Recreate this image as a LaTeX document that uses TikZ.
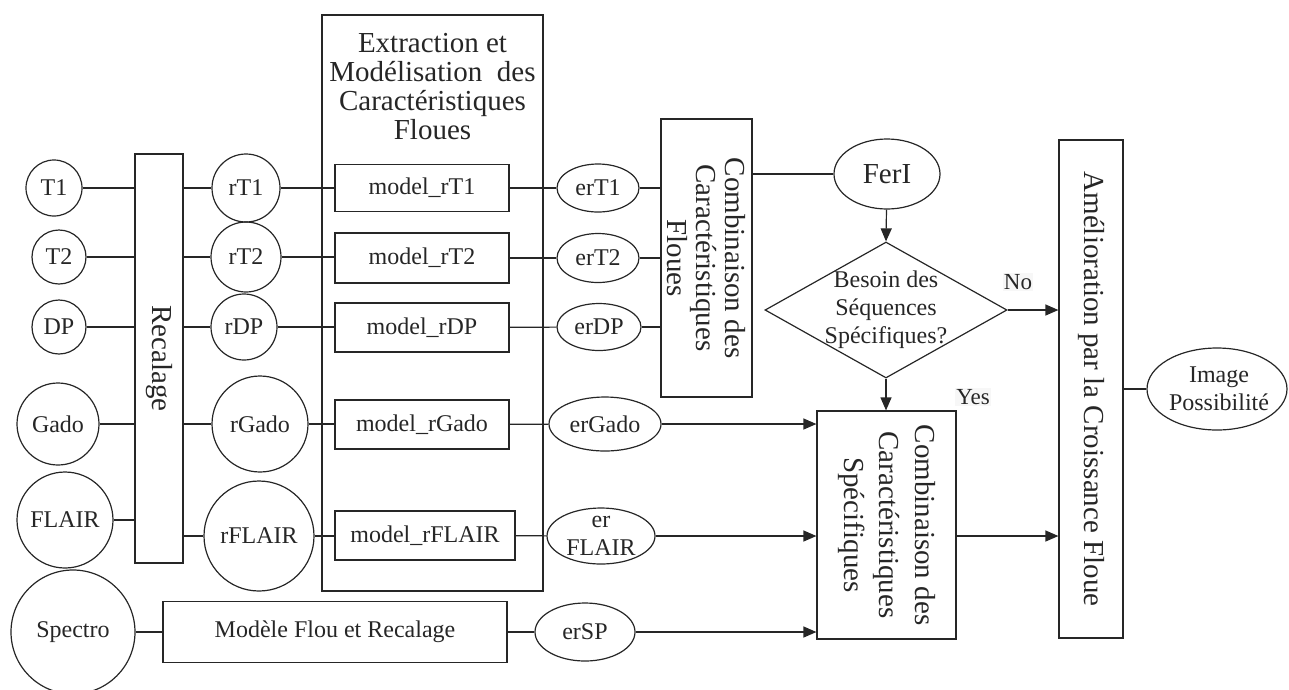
\documentclass[tikz,border=0pt]{standalone}
\usepackage{fontspec}
\setmainfont{Liberation Serif}
\usetikzlibrary{shapes.geometric,arrows.meta}
\newcommand\fsmall{\fontsize{24}{28}\selectfont}
\newcommand\fbig{\fontsize{29}{29}\selectfont}
\newcommand\flab{\fontsize{23}{26}\selectfont}
\colorlet{ink}{black!85}
\tikzset{
  conn/.style={line width=1.2pt, draw=ink},
  arr/.style={conn, -{Triangle[length=13pt,width=11pt]}},
  circ/.style={circle, draw=ink, line width=1.2pt, inner sep=0pt, font=\fsmall, text=ink},
  ell/.style={ellipse, draw=ink, line width=1.2pt, inner sep=0pt, font=\fsmall, text=ink},
  box/.style={rectangle, draw=ink, line width=1.2pt, inner sep=0pt, font=\fsmall, text=ink, align=center},
  vbox/.style={rectangle, draw=ink, line width=1.2pt, inner sep=0pt, font=\fbig, text=ink, align=center, rotate=-90},
  txt/.style={inner sep=0pt, text=ink, align=center},
  dia/.style={diamond, draw=ink, line width=1.2pt, inner sep=0pt, font=\fsmall, text=ink, align=center},
  lab/.style={inner sep=1pt, fill=black!3, text=ink, font=\flab}
}
\begin{document}
\begin{tikzpicture}[x=1pt,y=-1pt]
\useasboundingbox (0,0) rectangle (1289,689);

% inputs
\node[circ, minimum size=56] (T1) at (54,188) {T1};
\node[circ, minimum size=54] (T2) at (59,257) {T2};
\node[circ, minimum size=54] (DP) at (59,327) {DP};
\node[circ, minimum size=82] (Gado) at (58,424) {Gado};
\node[circ, minimum size=96] (FLAIR) at (65,520) {FLAIR};
\node[circ, minimum size=124] (Spectro) at (73,632) {Spectro};

% Recalage
\node[vbox, minimum width=409, minimum height=48, font=\fbig] (rec) at (159,358.5) {Recalage};

% registered
\node[circ, minimum size=68] (rT1) at (246,188) {rT1};
\node[circ, minimum size=70] (rT2) at (246,257) {rT2};
\node[circ, minimum size=66] (rDP) at (244,327) {rDP};
\node[circ, minimum size=96] (rGado) at (260,424) {rGado};
\node[circ, minimum size=110] (rFLAIR) at (259,536) {rFLAIR};

% extraction box
\node[box, minimum width=221, minimum height=576] (ext) at (432.5,303) {};
\node[txt, font=\fbig] (extt) at (432.5,87) {Extraction et\\Modélisation\ \ des\\Caractéristiques\\Floues};

\node[box, minimum width=174, minimum height=47] (m1) at (422,188) {model\_rT1};
\node[box, minimum width=174, minimum height=50] (m2) at (422,258) {model\_rT2};
\node[box, minimum width=174, minimum height=49] (m3) at (422,327.5) {model\_rDP};
\node[box, minimum width=174, minimum height=49] (m4) at (422,424.5) {model\_rGado};
\node[box, minimum width=180, minimum height=49] (m5) at (425,535.5) {model\_rFLAIR};

\node[box, minimum width=344, minimum height=61] (mod) at (335,632) {Modèle Flou et Recalage};

% er ellipses
\node[ell, minimum width=82, minimum height=48] (e1) at (598,188) {erT1};
\node[ell, minimum width=82, minimum height=49] (e2) at (598,258) {erT2};
\node[ell, minimum width=84, minimum height=47] (e3) at (599,327) {erDP};
\node[ell, minimum width=112, minimum height=54] (e4) at (605,424) {erGado};
\node[ell, minimum width=108, minimum height=56] (e5) at (601,536) {};
\node[txt, font=\fsmall] (e5t) at (601,536) {er\\FLAIR};
\node[ell, minimum width=100, minimum height=58] (e6) at (585,632) {erSP};

% combinaison floues
\node[vbox, minimum width=278, minimum height=91] (cf) at (706.5,258)
  {Combinaison des\\Caractéristiques\\Floues};

\node[ell, minimum width=106, minimum height=70, font=\fbig] (ferI) at (887,174) {FerI};

\node[dia, minimum width=242, minimum height=136] (dec) at (886,310) {};
\node[txt, font=\fsmall] (dect) at (886,310) {Besoin des\\Séquences\\Spécifiques?};

% combinaison specifiques
\node[vbox, minimum width=228, minimum height=139, font=\fontsize{29}{35.5}\selectfont] (cs) at (886.5,525)
  {Combinaison des\\Caractéristiques\\Spécifiques};

% amelioration
\node[vbox, minimum width=498, minimum height=64] (amel) at (1091,389)
  {Amélioration par la Croissance Floue};

\node[ell, minimum width=140, minimum height=82] (img) at (1217,389) {};
\node[txt, font=\fsmall] (imgt) at (1219,389) {Image\\Possibilité};

% labels
\node[lab] (yes) at (973,397) {Yes};
\node[lab] (no) at (1018,282) {No};

% connectors: inputs to Recalage
\foreach \n in {T1,T2,DP,Gado,FLAIR}
  \draw[conn] (\n) -- (\n -| rec.south);
\foreach \n in {rT1,rT2,rDP,rGado,rFLAIR}
  \draw[conn] (\n -| rec.north) -- (\n);

% registered to models
\draw[conn] (rT1) -- (m1);
\draw[conn] (rT2) -- (rT2 -| m2.west);
\draw[conn] (rDP) -- (rDP -| m3.west);
\draw[conn] (rGado) -- (rGado -| m4.west);
\draw[conn] (rFLAIR) -- (rFLAIR -| m5.west);

% models to er
\draw[conn] (m1) -- (e1);
\draw[conn] (m2) -- (e2);
\draw[conn] (m3) -- (e3);
\draw[conn] (m4) -- (e4);
\draw[conn] (m5) -- (e5);

\draw[conn] (Spectro) -- (mod);
\draw[conn] (mod) -- (e6);

% er to combinaison floues
\draw[conn] (e1) -- (e1 -| cf.south);
\draw[conn] (e2) -- (e2 -| cf.south);
\draw[conn] (e3) -- (e3 -| cf.south);

\draw[conn] (ferI -| cf.north) -- (ferI);
\draw[arr] (ferI) -- (dec.north);
\draw[arr] (dec.south) -- (dec.south |- cs.west);
\draw[arr] (dec.east) -- (dec.east -| amel.south);

% specific inputs
\draw[arr] (e4) -- (e4 -| cs.south);
\draw[arr] (e5) -- (e5 -| cs.south);
\draw[arr] (e6) -- (e6 -| cs.south);

\draw[arr] ([yshift=-11pt]cs.north) -- ([yshift=-11pt]cs.north -| amel.south);
\draw[conn] (amel.north |- img.west) -- (img.west);
\end{tikzpicture}
\end{document}
